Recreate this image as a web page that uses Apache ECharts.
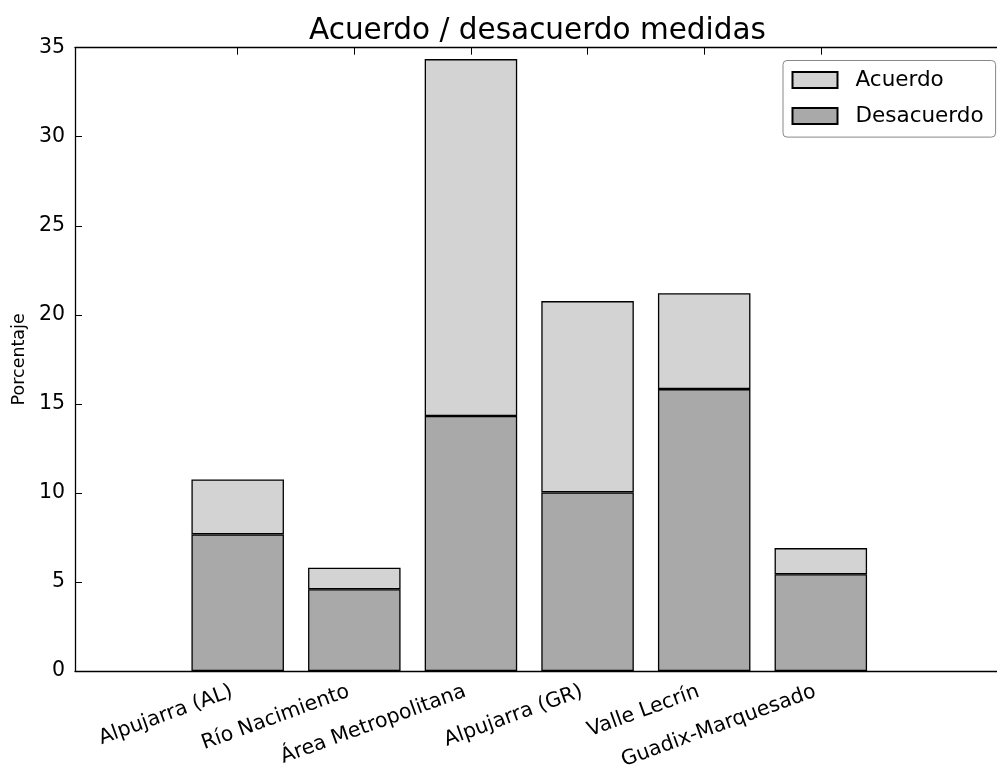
<!DOCTYPE html>
<html>
<head>
<meta charset="utf-8">
<script src="https://cdn.jsdelivr.net/npm/echarts@6/dist/echarts.min.js"></script>
<style>
html,body{margin:0;padding:0;background:#fff;}
#chart{width:997px;height:767px;}
</style>
</head>
<body>
<div id="chart"></div>
<script>
const categories = ['Alpujarra (AL)', 'Río Nacimiento', 'Área Metropolitana', 'Alpujarra (GR)', 'Valle Lecrín', 'Guadix-Marquesado'];
const desacuerdo = [7.67, 4.59, 14.32, 10.03, 15.83, 5.43];
const acuerdo = [3.09, 1.21, 20.04, 10.74, 5.38, 1.47];
const yTicks = [0, 5, 10, 15, 20, 25, 30, 35];

const FONT = 'DejaVu Sans';
const positions = categories.map((c, i) => i);

// frame grid spans x from -1.395 to 6.605 (category index units)
const X_MIN = -1.395, X_MAX = 6.605;
const FRAME_LEFT = 75, FRAME_TOP = 47.7, FRAME_W = 933, FRAME_H = 623.3;
const unit = FRAME_W / (X_MAX - X_MIN);
const barGridLeft = FRAME_LEFT + (-0.5 - X_MIN) * unit;
const barGridWidth = categories.length * unit;

const chart = echarts.init(document.getElementById('chart'), null, {renderer: 'canvas'});
const option = {
  animation: false,
  backgroundColor: '#fff',
  title: {
    text: 'Acuerdo / desacuerdo medidas',
    left: 309,
    top: 16,
    padding: 0,
    textStyle: {fontFamily: FONT, fontSize: 29.5, fontWeight: 'normal', color: '#000'}
  },
  legend: {
    data: ['Acuerdo', 'Desacuerdo'],
    orient: 'vertical',
    left: 783,
    top: 60.5,
    icon: 'rect',
    itemWidth: 45,
    itemHeight: 16,
    itemGap: 14,
    padding: [8.6, 12, 10, 8.5],
    backgroundColor: '#fff',
    borderColor: '#888',
    borderWidth: 1,
    borderRadius: 4,
    textStyle: {fontFamily: FONT, fontSize: 21.5, color: '#000', padding: [0, 0, 0, 13]}
  },
  grid: [
    {left: FRAME_LEFT, top: FRAME_TOP, width: FRAME_W, height: FRAME_H, containLabel: false, outerBoundsMode: 'none'},
    {left: barGridLeft, top: FRAME_TOP, width: barGridWidth, height: FRAME_H, containLabel: false, outerBoundsMode: 'none'}
  ],
  xAxis: [{
    type: 'value',
    gridIndex: 0,
    min: X_MIN,
    max: X_MAX,
    position: 'bottom',
    axisLine: {show: true, onZero: false, lineStyle: {color: '#000', width: 1.3}},
    axisTick: {show: true, inside: true, length: 7, customValues: positions, lineStyle: {color: '#000', width: 1}},
    axisLabel: {
      show: true,
      customValues: positions,
      formatter: v => categories[Math.round(v)] || '',
      rotate: 20,
      margin: 18,
      padding: [0, 6, 0, 0],
      fontFamily: FONT,
      fontSize: 20.5,
      color: '#000'
    },
    splitLine: {show: false}
  }, {
    type: 'value',
    gridIndex: 0,
    min: X_MIN,
    max: X_MAX,
    position: 'top',
    axisLine: {show: true, onZero: false, lineStyle: {color: '#000', width: 1.3}},
    axisTick: {show: true, inside: true, length: 7, customValues: positions, lineStyle: {color: '#000', width: 1}},
    axisLabel: {show: false},
    splitLine: {show: false}
  }, {
    type: 'category',
    gridIndex: 1,
    data: categories,
    show: false
  }],
  yAxis: [{
    type: 'value',
    gridIndex: 0,
    min: yTicks[0],
    max: yTicks[yTicks.length - 1],
    interval: 5,
    name: 'Porcentaje',
    nameLocation: 'middle',
    nameGap: 44,
    nameTextStyle: {fontFamily: FONT, fontSize: 17.5, color: '#000'},
    axisLine: {show: true, onZero: false, lineStyle: {color: '#000', width: 1.3}},
    axisTick: {show: true, inside: true, length: 7, lineStyle: {color: '#000', width: 1}},
    axisLabel: {margin: 10, fontFamily: FONT, fontSize: 20.5, color: '#000'},
    splitLine: {show: false}
  }, {
    type: 'value',
    gridIndex: 1,
    min: yTicks[0],
    max: yTicks[yTicks.length - 1],
    show: false
  }],
  series: [{
    name: 'Desacuerdo',
    type: 'bar',
    stack: 'total',
    xAxisIndex: 2,
    yAxisIndex: 1,
    barWidth: 92.5,
    data: desacuerdo,
    itemStyle: {color: '#a9a9a9', borderColor: '#000', borderWidth: 1.3}
  }, {
    name: 'Acuerdo',
    type: 'bar',
    stack: 'total',
    xAxisIndex: 2,
    yAxisIndex: 1,
    barWidth: 92.5,
    data: acuerdo,
    itemStyle: {color: '#d3d3d3', borderColor: '#000', borderWidth: 1.3}
  }]
};
chart.setOption(option);
</script>
</body>
</html>
